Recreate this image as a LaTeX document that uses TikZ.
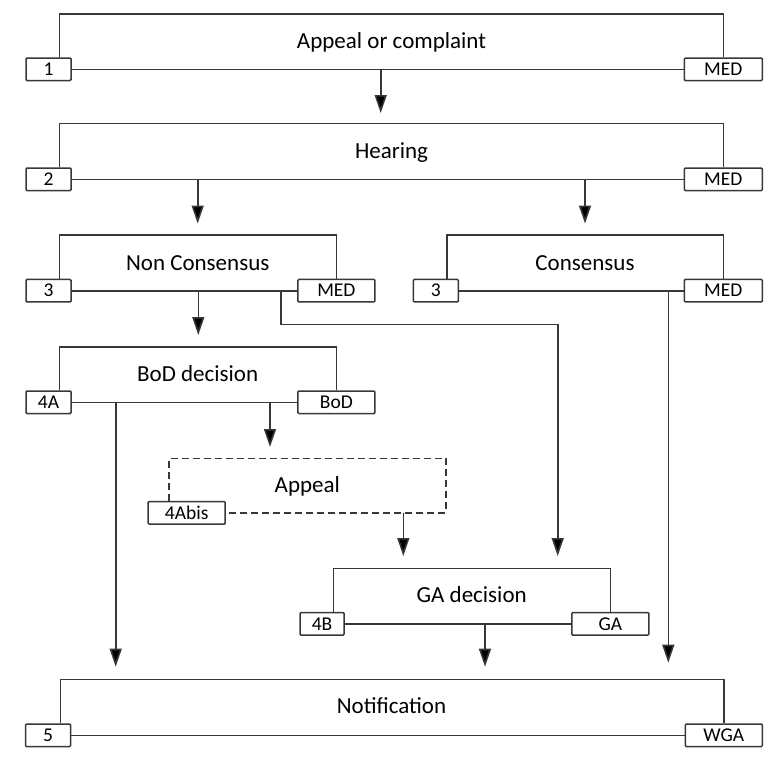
\documentclass[tikz,border=0pt]{standalone}
\usepackage{fontspec}
\setmainfont{Carlito}
\usetikzlibrary{arrows.meta}
\definecolor{linegray}{HTML}{383838}
\begin{document}
\begin{tikzpicture}[x=1pt,y=-1pt,
 line/.style={draw=linegray, line width=1.6pt},
 arr/.style={line, -{Triangle[length=18pt,width=12pt,fill=black]}},
 lbl/.style={draw=linegray, line width=1.5pt, fill=white, rounded corners=1pt, inner sep=0pt, minimum height=22.5pt, text height=12.5pt, text depth=0pt, font=\fontsize{19.5}{19.5}\selectfont},
 ttl/.style={anchor=base, inner sep=0pt, font=\fontsize{23}{23}\selectfont},
 dashline/.style={line, dash pattern=on 7pt off 4pt}]
\useasboundingbox (0,0) rectangle (784,763);

% Stage 1
\node[lbl, minimum width=45pt] (n1) at (48.5,69.3) {1};
\node[lbl, minimum width=78pt] (m1) at (723.3,69.3) {MED};
\node[ttl] (t1) at (391.5,48.5) {Appeal or complaint};
\coordinate (c1) at (59.3,14);
\draw[line] (c1 |- n1.north) -- (c1) -| (m1.north);
\draw[line] (n1.east) -- (m1.west);

% Stage 2
\node[lbl, minimum width=45pt] (n2) at (48.5,179.3) {2};
\node[lbl, minimum width=78pt] (m2) at (723.3,179.3) {MED};
\node[ttl] (t2) at (391.5,158.3) {Hearing};
\coordinate (c2) at (59.3,123.3);
\draw[line] (c2 |- n2.north) -- (c2) -| (m2.north);
\draw[line] (n2.east) -- (m2.west);

% Stage 3 non consensus
\node[lbl, minimum width=45pt] (n3a) at (48.5,290.7) {3};
\node[lbl, minimum width=77pt] (m3a) at (336.4,290.7) {MED};
\node[ttl] (t3a) at (197.7,270.3) {Non Consensus};
\coordinate (c3a) at (59.3,235);
\draw[line] (c3a |- n3a.north) -- (c3a) -| (m3a.north);
\draw[line] (n3a.east) -- (m3a.west);

% Stage 3 consensus
\node[lbl, minimum width=45pt] (n3b) at (435.8,290.7) {3};
\node[lbl, minimum width=78pt] (m3b) at (723.3,290.7) {MED};
\node[ttl] (t3b) at (585,270.3) {Consensus};
\coordinate (c3b) at (446.7,235);
\draw[line] (c3b |- n3b.north) -- (c3b) -| (m3b.north);
\draw[line] (n3b.east) -- (m3b.west);

% Stage 4A
\node[lbl, minimum width=45pt] (n4a) at (48.5,402.3) {4A};
\node[lbl, minimum width=77pt] (m4a) at (336.4,402.3) {BoD};
\node[ttl] (t4a) at (197.7,381.5) {BoD decision};
\coordinate (c4a) at (59.3,346.7);
\draw[line] (c4a |- n4a.north) -- (c4a) -| (m4a.north);
\draw[line] (n4a.east) -- (m4a.west);

% Stage 4Abis (dashed)
\node[lbl, minimum width=77pt] (n4ab) at (186.7,512.8) {4Abis};
\node[ttl] (t4ab) at (307.3,492.8) {Appeal};
\coordinate (c4ab) at (169,458.3);
\coordinate (d4ab) at (445.7,458.3);
\draw[dashline] (c4ab |- n4ab.north) -- (c4ab) -- (d4ab) |- (n4ab.east);

% Stage 4B
\node[lbl, minimum width=44pt] (n4b) at (322,623.8) {4B};
\node[lbl, minimum width=77pt] (m4b) at (610.3,623.8) {GA};
\node[ttl] (t4b) at (471.7,602.8) {GA decision};
\coordinate (c4b) at (333.3,568.3);
\draw[line] (c4b |- n4b.north) -- (c4b) -| (m4b.north);
\draw[line] (n4b.east) -- (m4b.west);

% Stage 5
\node[lbl, minimum width=45pt] (n5) at (48,735.3) {5};
\node[lbl, minimum width=77pt] (m5) at (723.8,735.3) {WGA};
\node[ttl] (t5) at (391.5,713.5) {Notification};
\coordinate (c5) at (60.4,679.3);
\draw[line] (c5 |- n5.north) -- (c5) -| (m5.north);
\draw[line] (n5.east) -- (m5.west);

% Arrows
\coordinate (a1s) at (380.7,69.3);  \coordinate (a1e) at (380.7,113);
\draw[arr] (a1s) -- (a1e);
\coordinate (a2s) at (197.7,179.3); \coordinate (a2e) at (197.7,223.5);
\draw[arr] (a2s) -- (a2e);
\coordinate (a3s) at (585,179.3);   \coordinate (a3e) at (585,223.5);
\draw[arr] (a3s) -- (a3e);
\coordinate (a4s) at (198.3,290.7); \coordinate (a4e) at (198.3,335);
\draw[arr] (a4s) -- (a4e);
\coordinate (a5s) at (281,290.7); \coordinate (a5m) at (557.7,324.3); \coordinate (a5e) at (557.7,556);
\draw[arr] (a5s) |- (a5m) -- (a5e);
\coordinate (a6s) at (668.3,290.7); \coordinate (a6e) at (668.3,662.7);
\draw[arr] (a6s) -- (a6e);
\coordinate (a7s) at (115.7,402.3); \coordinate (a7e) at (115.7,666.7);
\draw[arr] (a7s) -- (a7e);
\coordinate (a8s) at (270,402.3); \coordinate (a8e) at (270,447);
\draw[arr] (a8s) -- (a8e);
\coordinate (a9s) at (403.3,512.8); \coordinate (a9e) at (403.3,556);
\draw[arr] (a9s) -- (a9e);
\coordinate (a10s) at (485,623.8); \coordinate (a10e) at (485,666.7);
\draw[arr] (a10s) -- (a10e);
\end{tikzpicture}
\end{document}
